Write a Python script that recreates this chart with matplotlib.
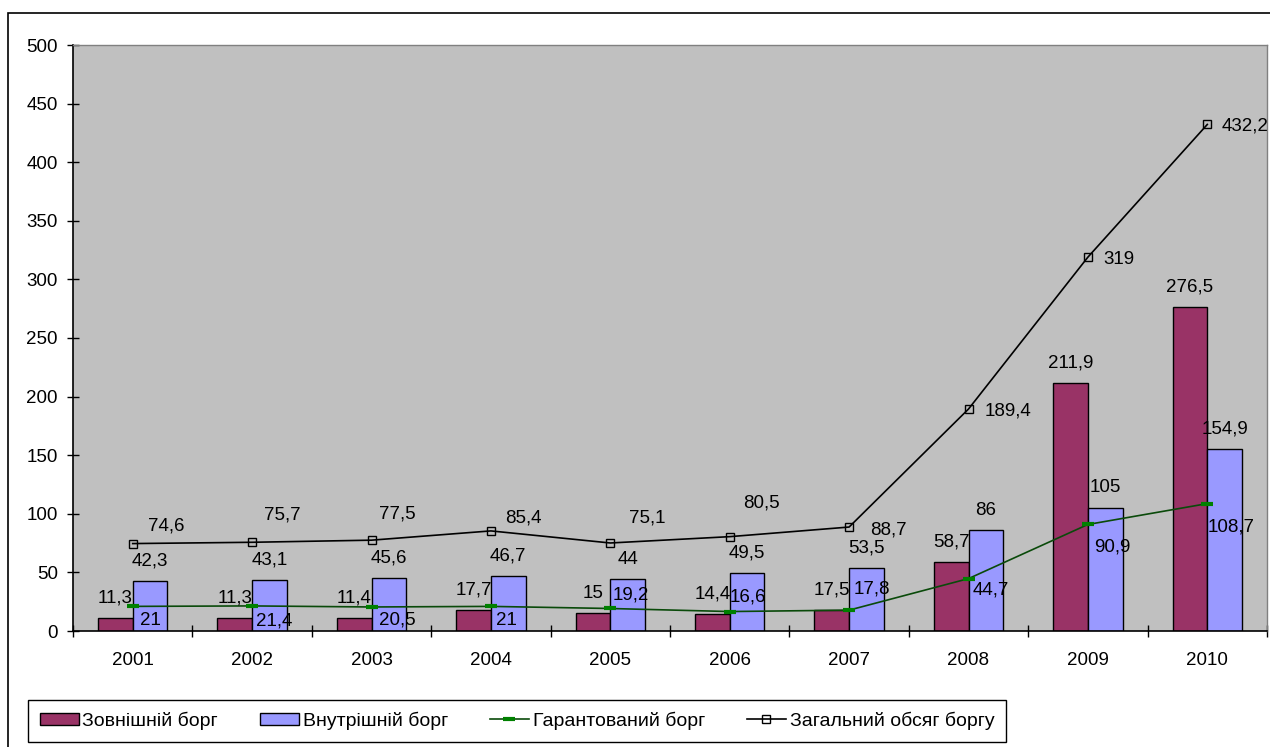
import matplotlib.pyplot as plt
import numpy as np
from matplotlib.patches import Rectangle

plt.rcParams['font.family'] = ['Liberation Sans', 'DejaVu Sans']

years = ['2001', '2002', '2003', '2004', '2005', '2006', '2007', '2008', '2009', '2010']
external_debt = [11.3, 11.3, 11.4, 17.7, 15, 14.4, 17.5, 58.7, 211.9, 276.5]
internal_debt = [42.3, 43.1, 45.6, 46.7, 44, 49.5, 53.5, 86, 105, 154.9]
guaranteed_debt = [21, 21.4, 20.5, 21, 19.2, 16.6, 17.8, 44.7, 90.9, 108.7]
total_debt = [74.6, 75.7, 77.5, 85.4, 75.1, 80.5, 88.7, 189.4, 319, 432.2]

series_names = ['Зовнішній борг', 'Внутрішній борг', 'Гарантований борг', 'Загальний обсяг боргу']

# label offsets for the two lines, in pixels (right, down) from the point
total_off = [(15, -18), (12, -27), (8, -26), (14, -13), (19, -25), (13, -34), (21, 3), (16, 2), (15, 2), (14, 2)]
guar_off = [(7, 14), (4, 15), (7, 13), (5, 14), (2, -13), (0, -15), (5, -21), (4, 11), (6, 23), (0, 23)]

FS = 13.5
W, H = 1270, 747
PX = 0.72  # points per pixel at dpi 100


def fmt(v):
    return f'{v:g}'.replace('.', ',')


fig = plt.figure(figsize=(W / 100, H / 100), dpi=100)
ax = fig.add_axes([73 / W, 1 - 631 / H, (1267 - 73) / W, (631 - 45) / H])
ax.set_facecolor('#C0C0C0')

x = np.arange(len(years))
bw = 0.29
b1 = ax.bar(x - bw / 2, external_debt, bw, color='#993366', edgecolor='black', linewidth=1, zorder=2)
b2 = ax.bar(x + bw / 2, internal_debt, bw, color='#9999FF', edgecolor='black', linewidth=1, zorder=2)
l1, = ax.plot(x, guaranteed_debt, color='#0a4a0a', lw=1.2, marker='_', ms=9, mew=3, mec='#008000', zorder=3)
l2, = ax.plot(x, total_debt, color='black', lw=1.2, marker='s', ms=6, mfc='none', mec='black', mew=1, zorder=3)

for i in range(len(years)):
    ax.annotate(fmt(external_debt[i]), (x[i] - bw / 2, external_debt[i]), xytext=(0, 20 * PX),
                textcoords='offset points', ha='center', va='center', fontsize=FS, zorder=4)
    ax.annotate(fmt(internal_debt[i]), (x[i] + bw / 2, internal_debt[i]), xytext=(0, 20 * PX),
                textcoords='offset points', ha='center', va='center', fontsize=FS, zorder=4)
    dx, dy = guar_off[i]
    ax.annotate(fmt(guaranteed_debt[i]), (x[i], guaranteed_debt[i]), xytext=(dx * PX, -dy * PX),
                textcoords='offset points', ha='left', va='center', fontsize=FS, zorder=4)
    dx, dy = total_off[i]
    ax.annotate(fmt(total_debt[i]), (x[i], total_debt[i]), xytext=(dx * PX, -dy * PX),
                textcoords='offset points', ha='left', va='center', fontsize=FS, zorder=4,
                annotation_clip=False)

ax.set_xlim(-0.5, len(years) - 0.5)
ax.set_ylim(0, 500)
ax.set_xticks(np.arange(-0.5, len(years), 1))
ax.set_xticklabels([])
ax.set_xticks(x, minor=True)
ax.set_xticklabels(years, minor=True, fontsize=FS)
ax.tick_params(axis='x', which='minor', length=0, pad=15)
ax.tick_params(axis='x', which='major', direction='inout', length=8, width=1)
ax.set_yticks(range(0, 501, 50))
ax.tick_params(axis='y', direction='inout', length=8, width=1, labelsize=FS, pad=7)

for s in ['left', 'bottom']:
    ax.spines[s].set_color('black')
    ax.spines[s].set_linewidth(1.2)
for s in ['top', 'right']:
    ax.spines[s].set_color('#808080')
    ax.spines[s].set_linewidth(1)

leg = fig.legend([b1, b2, l1, l2], series_names, loc='upper left',
                 bbox_to_anchor=(28 / W, 1 - 743 / H, 978 / W, 43 / H), mode='expand', borderaxespad=0,
                 ncol=4, fancybox=False, edgecolor='black', framealpha=1, fontsize=14,
                 handlelength=2.0, handleheight=0.6, columnspacing=2.0, borderpad=0.6, handletextpad=0.2)
leg.set_bbox_to_anchor((28 / W, 1 - 700 / H, 978 / W, 0), transform=fig.transFigure)
leg.get_frame().set_linewidth(1)

# outer chart frame
fig.patches.append(Rectangle((8 / W, -0.1), 1.2, 1 - 13 / H + 0.1, transform=fig.transFigure,
                             fill=False, edgecolor='black', linewidth=1.2))

fig.savefig('out.png', dpi=100)
